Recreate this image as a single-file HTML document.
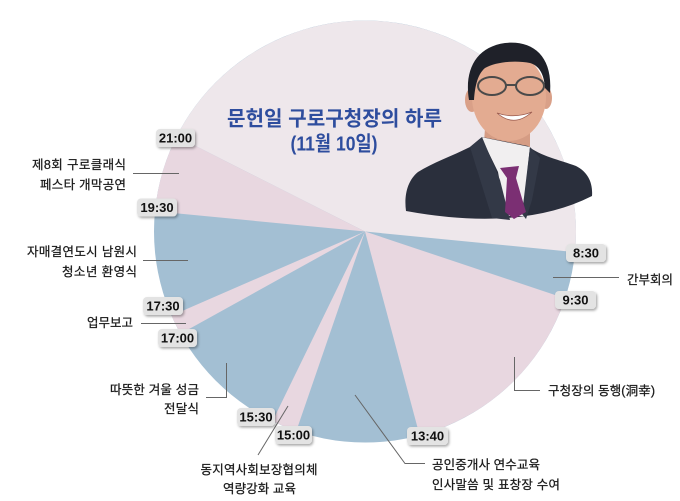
<!DOCTYPE html>
<html>
<head>
<meta charset="utf-8">
<style>
  html,body{margin:0;padding:0;background:#ffffff;}
  svg{display:block;}
  .lbl{font-family:"Liberation Sans","Noto Sans CJK KR",sans-serif;font-size:12.5px;fill:#1a1a1a;stroke:#1a1a1a;stroke-width:0.25px;}
  .bd{font-family:"Liberation Sans","Noto Sans CJK KR",sans-serif;font-size:13px;font-weight:bold;fill:#111;}
  .ttl{font-family:"Liberation Sans","Noto Sans CJK KR",sans-serif;font-size:20.5px;font-weight:bold;fill:#2e4d9e;}
  .ld{stroke:#666;stroke-width:1;fill:none;}
</style>
</head>
<body>
<svg width="680" height="501" viewBox="0 0 680 501" xmlns="http://www.w3.org/2000/svg">
  <defs>
    <filter id="sh" x="-30%" y="-30%" width="160%" height="180%">
      <feDropShadow dx="1.2" dy="1.6" stdDeviation="1.2" flood-color="#000" flood-opacity="0.35"/>
    </filter>
  </defs>
  <rect width="680" height="501" fill="#ffffff"/>

  <!-- pie -->
  <circle cx="365" cy="231.5" r="211" fill="#a3bfd3"/>
  <path d="M365,231.5 L176.7,136.4 A211,211 0 0 1 575.0,252.1 Z" fill="#eee7eb"/>
  <path d="M365,231.5 L565.1,298.4 A211,211 0 0 1 419.6,435.3 Z" fill="#e8d7e0"/>
  <path d="M365,231.5 L296.3,431.0 A211,211 0 0 1 272.5,421.1 Z" fill="#e8d7e0"/>
  <path d="M365,231.5 L180.5,333.8 A211,211 0 0 1 171.5,315.6 Z" fill="#e8d7e0"/>
  <path d="M365,231.5 L155.0,211.3 A211,211 0 0 1 176.7,136.4 Z" fill="#e8d7e0"/>

  <!-- photo (simplified figure) -->
  <g>
    <polygon points="486,115 530,115 530,150 506,162 484,142" fill="#d59c84"/>
    <path d="M406,211 C404,196 407,181 418,172 C432,163 452,156 470,147 L482,137 L528,146 C540,156 560,160 576,166 C588,172 593,183 592,196 Q521,232 406,211 Z" fill="#2a2f3c"/>
    <polygon points="481,137 498,172 506,216 524,216 528,165 530,147" fill="#f1eff0"/>
    <path d="M470,147 L482,137 L500,180 L510,220 L492,218 Z" fill="#333947"/>
    <path d="M530,147 L540,158 L532,200 L526,219 L522,214 Z" fill="#333947"/>
    <polygon points="500,168 519,166 516,178 526,212 514,219 505,212 507,178" fill="#7b2f73"/>
    <ellipse cx="472" cy="100" rx="7" ry="12" fill="#d9a088"/>
    <ellipse cx="546" cy="98" rx="6" ry="11" fill="#d9a088"/>
    <ellipse cx="509" cy="97" rx="37" ry="44" fill="#e3ab91"/>
    <path d="M469,100 C464,70 476,47 505,43 C533,40 553,56 550,93 L545,88 C544,75 540,66 530,63 C515,60 495,62 485,68 C478,74 475,85 474,100 Z" fill="#1f2129"/>
    <ellipse cx="492" cy="86" rx="14" ry="9" fill="none" stroke="#4a4a4a" stroke-width="2"/>
    <ellipse cx="530" cy="86" rx="14" ry="9" fill="none" stroke="#4a4a4a" stroke-width="2"/>
    <line x1="506" y1="85" x2="516" y2="85" stroke="#4a4a4a" stroke-width="2"/>
    <path d="M497,113 Q514,128 532,112 Q514,119 497,113 Z" fill="#ffffff" stroke="#9a5a4e" stroke-width="0.8"/>
  </g>

  <!-- title -->
  <text class="ttl" x="334.5" y="125.5" text-anchor="middle" textLength="215" lengthAdjust="spacingAndGlyphs">문헌일 구로구청장의 하루</text>
  <text class="ttl" x="334" y="150.5" text-anchor="middle" textLength="87" lengthAdjust="spacingAndGlyphs">(11월 10일)</text>

  <!-- leaders -->
  <line class="ld" x1="133" y1="173.5" x2="179" y2="173.5"/>
  <line class="ld" x1="143" y1="260.5" x2="188" y2="260.5"/>
  <line class="ld" x1="141" y1="323.5" x2="186" y2="323.5"/>
  <polyline class="ld" points="206,397.5 226.5,397.5 226.5,363"/>
  <line class="ld" x1="258" y1="455" x2="288" y2="406"/>
  <polyline class="ld" points="355,395 405,463.5 425,463.5"/>
  <polyline class="ld" points="514.5,357 514.5,390.5 540,390.5"/>
  <line class="ld" x1="553" y1="277.5" x2="619" y2="277.5"/>

  <!-- labels -->
  <text class="lbl" x="126" y="169" text-anchor="end" textLength="94">제8회 구로클래식</text>
  <text class="lbl" x="126" y="189" text-anchor="end" textLength="86">페스타 개막공연</text>
  <text class="lbl" x="137" y="256" text-anchor="end" textLength="110">자매결연도시 남원시</text>
  <text class="lbl" x="137" y="276" text-anchor="end" textLength="75">청소년 환영식</text>
  <text class="lbl" x="133" y="327" text-anchor="end" textLength="46">업무보고</text>
  <text class="lbl" x="199" y="394" text-anchor="end" textLength="89">따뜻한 겨울 성금</text>
  <text class="lbl" x="199" y="413" text-anchor="end" textLength="35">전달식</text>
  <text class="lbl" x="259" y="474" text-anchor="middle" textLength="117">동지역사회보장협의체</text>
  <text class="lbl" x="259.5" y="493" text-anchor="middle" textLength="73">역량강화 교육</text>
  <text class="lbl" x="432" y="469" textLength="108">공인중개사 연수교육</text>
  <text class="lbl" x="432" y="489" textLength="128">인사말씀 및 표창장 수여</text>
  <text class="lbl" x="548" y="395" textLength="107">구청장의 동행(洞幸)</text>
  <text class="lbl" x="627" y="284" textLength="46">간부회의</text>

  <!-- time badges -->
  <g>
    <rect x="156" y="129" width="39" height="18" rx="4" fill="#e3e3e3" filter="url(#sh)"/>
    <text class="bd" x="175.5" y="142.7" text-anchor="middle">21:00</text>

    <rect x="137" y="198.5" width="40" height="18" rx="4" fill="#e3e3e3" filter="url(#sh)"/>
    <text class="bd" x="157" y="212.2" text-anchor="middle">19:30</text>

    <rect x="143" y="297" width="40" height="18" rx="4" fill="#e3e3e3" filter="url(#sh)"/>
    <text class="bd" x="163" y="310.7" text-anchor="middle">17:30</text>

    <rect x="158" y="329" width="39" height="18" rx="4" fill="#e3e3e3" filter="url(#sh)"/>
    <text class="bd" x="177.5" y="342.7" text-anchor="middle">17:00</text>

    <rect x="237" y="408" width="38" height="18" rx="4" fill="#e3e3e3" filter="url(#sh)"/>
    <text class="bd" x="256" y="421.7" text-anchor="middle">15:30</text>

    <rect x="275" y="426" width="37" height="18" rx="4" fill="#e3e3e3" filter="url(#sh)"/>
    <text class="bd" x="293.5" y="439.7" text-anchor="middle">15:00</text>

    <rect x="407" y="427" width="41" height="18" rx="4" fill="#e3e3e3" filter="url(#sh)"/>
    <text class="bd" x="427.5" y="440.7" text-anchor="middle">13:40</text>

    <rect x="555" y="291" width="41" height="18" rx="4" fill="#e3e3e3" filter="url(#sh)"/>
    <text class="bd" x="575.5" y="304.7" text-anchor="middle">9:30</text>

    <rect x="566" y="244" width="40" height="18" rx="4" fill="#e3e3e3" filter="url(#sh)"/>
    <text class="bd" x="586" y="257.7" text-anchor="middle">8:30</text>
  </g>
</svg>
</body>
</html>
